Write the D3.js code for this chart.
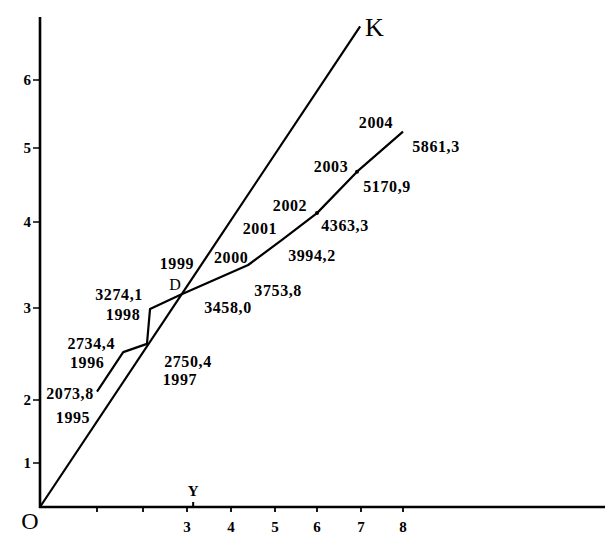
<!DOCTYPE html>
<html><head><meta charset="utf-8">
<script src="https://cdn.jsdelivr.net/npm/d3@7"></script>
<style>
html,body{margin:0;padding:0;background:#fff;}
svg{display:block;}
text{font-family:"Liberation Serif","DejaVu Serif",serif;fill:#000;}
</style></head>
<body>
<svg id="c" width="605" height="534"></svg>
<script>
// ---- data ----
const years = [1995, 1996, 1997, 1998, 1999, 2000, 2001, 2002, 2003, 2004];
const values = ["2073,8", "2734,4", "2750,4", "3274,1", "3458,0", "3753,8", "3994,2", "4363,3", "5170,9", "5861,3"];
const seriesX = [1.00, 1.57, 2.09, 2.16, 2.84, 4.39, 5.19, 6.00, 6.91, 8.00];
const seriesY = [2.09, 2.52, 2.61, 2.99, 3.15, 3.50, 3.80, 4.12, 4.68, 5.24];
const kLineX = [0, 6.98];
const kLineY = [0, 6.79];
const xTicks = [1, 2, 3, 4, 5, 6, 7, 8];
const xTickLabels = ["", "", "3", "4", "5", "6", "7", "8"];
const yTicks = [1, 2, 3, 4, 5, 6];
const yTickLabels = ["1", "2", "3", "4", "5", "6"];
const yMarker = 3.14;

// ---- layout (pixel offsets for labels) ----
const valueOffsets = [[-27,2],[-32,-9],[41,18],[-31,-14],[48,12],[30,25],[29,16],[28,12],[30,15],[33,15]];
const yearOffsets = [[-24,26],[-36,10],[33,36],[-27,6],[-3,-32],[-17,-8],[-23,-11],[-27,-8],[-26,-5],[-27,-9]];

const svg = d3.select("#c");
// hand-drawn axes with uneven graduations -> polylinear scales
const x = d3.scaleLinear().domain([0,1,2,3,4,5,6,7,8]).range([40,97,143,187,231,275,317,361,403]);
const y = d3.scaleLinear().domain([0,1,2,3,4,5,6]).range([507,463,400,308,222,148,80]);

// axes lines
svg.append("line").attr("x1",40).attr("x2",40).attr("y1",y(0)+1).attr("y2",17)
  .attr("stroke","#000").attr("stroke-width",2.6);
svg.append("line").attr("x1",39).attr("x2",605).attr("y1",y(0)).attr("y2",y(0))
  .attr("stroke","#000").attr("stroke-width",2.6);

// y ticks
const yt = svg.append("g");
yTicks.forEach((t,i)=>{
  yt.append("line").attr("x1",33).attr("x2",40).attr("y1",y(t)).attr("y2",y(t)).attr("stroke","#000").attr("stroke-width",1.5);
  yt.append("text").attr("x",31).attr("y",y(t)).attr("text-anchor","end").attr("dominant-baseline","central")
    .attr("font-size",15).attr("font-weight","bold").text(yTickLabels[i]);
});
// x ticks
const xt = svg.append("g");
xTicks.forEach((t,i)=>{
  xt.append("line").attr("x1",x(t)).attr("x2",x(t)).attr("y1",y(0)).attr("y2",y(0)+5).attr("stroke","#000").attr("stroke-width",1.8);
  xt.append("text").attr("x",x(t)).attr("y",y(0)+20).attr("text-anchor","middle").attr("dominant-baseline","central")
    .attr("font-size",15).attr("font-weight","bold").text(xTickLabels[i]);
});
// Y marker
svg.append("line").attr("x1",x(yMarker)).attr("x2",x(yMarker)).attr("y1",y(0)).attr("y2",y(0)-5).attr("stroke","#000").attr("stroke-width",2);
svg.append("text").attr("x",x(yMarker)).attr("y",y(0)-16).attr("text-anchor","middle").attr("dominant-baseline","central")
  .attr("font-size",15).attr("font-weight","bold").text("Y");
// origin
svg.append("text").attr("x",30).attr("y",521).attr("text-anchor","middle").attr("dominant-baseline","central")
  .attr("font-size",24).text("O");

// K line
const line = d3.line().x(d=>x(d[0])).y(d=>y(d[1]));
svg.append("path").attr("d", line(kLineX.map((v,i)=>[v,kLineY[i]])))
  .attr("fill","none").attr("stroke","#000").attr("stroke-width",2.2);
svg.append("text").attr("x",x(kLineX[1])+5).attr("y",y(kLineY[1])+1).attr("dominant-baseline","central")
  .attr("font-size",26).text("K");

// series polyline
const pts = years.map((yr,i)=>[seriesX[i],seriesY[i]]);
svg.append("path").attr("d", line(pts)).attr("fill","none").attr("stroke","#000").attr("stroke-width",2.2).attr("stroke-linejoin","round");
svg.selectAll(".dot").data(pts.slice(7,9)).enter().append("circle")
  .attr("cx",d=>x(d[0])).attr("cy",d=>y(d[1])).attr("r",2).attr("fill","#000");

// D label
svg.append("text").attr("x",x(seriesX[4])-5).attr("y",y(seriesY[4])-11).attr("text-anchor","middle").attr("dominant-baseline","central")
  .attr("font-size",16).text("D");

// labels
const lg = svg.append("g").attr("font-size",16).attr("font-weight","bold");
pts.forEach((p,i)=>{
  lg.append("text").attr("x",x(p[0])+valueOffsets[i][0]).attr("y",y(p[1])+valueOffsets[i][1])
    .attr("text-anchor","middle").attr("dominant-baseline","central").attr("letter-spacing",0.6).text(values[i]);
  lg.append("text").attr("x",x(p[0])+yearOffsets[i][0]).attr("y",y(p[1])+yearOffsets[i][1])
    .attr("text-anchor","middle").attr("dominant-baseline","central").attr("letter-spacing",0.6).text(years[i]);
});
</script>
</body></html>
